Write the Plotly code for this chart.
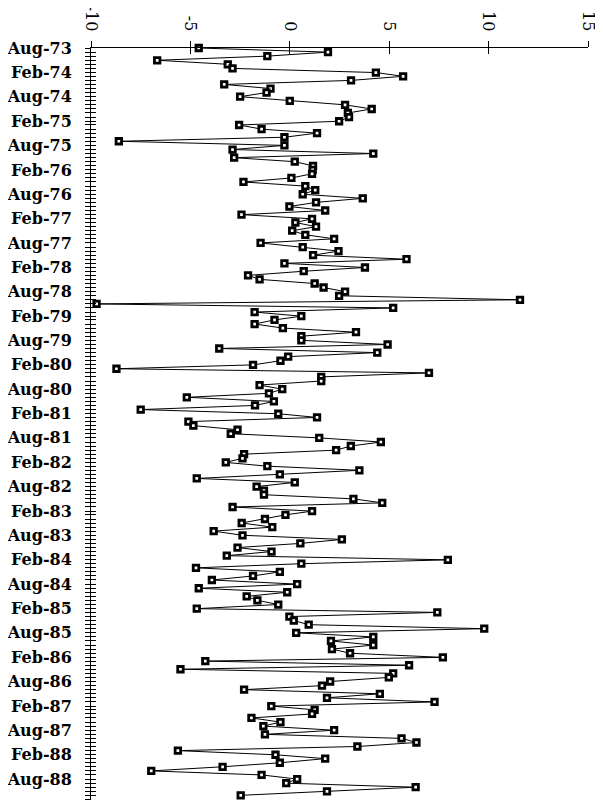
import pandas as pd
import plotly.graph_objects as go

# Monthly series, Aug-73 .. Dec-88
start_month = "1973-08-01"
values = [
    -4.58, 1.92, -1.13, -6.67, -3.12, -2.88, 4.33, 5.70, 3.08, -3.30,
    -0.97, -1.17, -2.50, 0.00, 2.78, 4.12, 2.92, 2.98, 2.48, -2.55,
    -1.42, 1.37, -0.27, -8.60, -0.27, -2.88, 4.20, -2.80, 0.25, 1.17,
    1.15, 1.12, 0.08, -2.33, 0.78, 1.28, 0.65, 3.67, 1.32, -0.02,
    1.78, -2.43, 1.12, 0.28, 1.32, 0.12, 0.78, 2.23, -1.47, 0.65,
    2.45, 1.17, 5.87, -0.27, 3.78, 0.70, -2.10, -1.52, 1.25, 1.70,
    2.78, 2.48, 11.58, -9.72, 5.20, -1.77, 0.58, -0.77, -1.77, -0.35,
    3.33, 0.58, 0.58, 4.92, -3.55, 4.40, -0.08, -0.47, -1.85, -8.72,
    7.00, 1.58, 1.58, -1.52, -0.38, -1.05, -5.18, -0.80, -1.75, -7.50,
    -0.58, 1.37, -5.10, -4.85, -2.63, -2.97, 1.48, 4.58, 3.07, 2.33,
    -2.30, -2.38, -3.22, -1.13, 3.50, -0.50, -4.68, 0.25, -1.67, -1.30,
    -1.30, 3.20, 4.65, -2.88, 1.12, -0.22, -1.25, -2.42, -0.88, -3.83,
    -2.38, 2.62, 0.53, -2.63, -0.92, -3.17, 7.95, 0.58, -4.72, -0.50,
    -1.85, -3.92, 0.37, -4.58, -0.13, -2.17, -1.63, -0.58, -4.68, 7.42,
    -0.02, 0.20, 0.95, 9.78, 0.32, 4.20, 2.07, 4.20, 2.12, 3.03,
    7.70, -4.25, 6.00, -5.50, 5.20, 4.98, 2.03, 1.62, -2.30, 4.53,
    1.87, 7.28, -0.93, 1.25, 1.12, -1.93, -0.47, -1.33, 2.23, -1.25,
    5.62, 6.37, 3.40, -5.63, -0.72, 1.78, -0.50, -3.38, -6.97, -1.42,
    0.37, -0.18, 6.33, 1.87, -2.47,
]
months = pd.date_range(start_month, periods=len(values), freq="MS")

x_ticks = [-10, -5, 0, 5, 10, 15]
x_ticktext = ["-10", "-5", "0", "5", "10", "15"]
y_range = ["1973-08-01", "1989-01-05"]

font_family = "DejaVu Serif"

fig = go.Figure()
fig.add_trace(go.Scatter(
    x=values, y=months, mode="lines+markers",
    line=dict(color="black", width=1),
    marker=dict(symbol="square", size=5.5, color="white",
                line=dict(color="black", width=2.8)),
    showlegend=False, cliponaxis=False,
))

# page body has an 8px default margin, so the figure is sized to fit
fig.update_layout(
    width=595, height=796,
    paper_bgcolor="white", plot_bgcolor="white",
    margin=dict(l=83, r=15, t=40, b=4),
    font=dict(family=font_family, color="black", size=15),
    xaxis=dict(
        side="top", range=[-10, 15], tickmode="array",
        tickvals=x_ticks, ticktext=x_ticktext, tickangle=90,
        ticks="outside", ticklen=6, tickwidth=1, tickcolor="black",
        showline=True, linecolor="black", linewidth=1,
        showgrid=False, zeroline=False, automargin=False,
        ticklabelstandoff=4,
        tickfont=dict(family=font_family, size=16),
    ),
    xaxis2=dict(
        overlaying="x", side="top", range=[-10, 15], tickmode="array",
        tickvals=x_ticks, ticks="inside", ticklen=6, tickwidth=1,
        tickcolor="black", showticklabels=False, showgrid=False,
        zeroline=False, showline=False, automargin=False,
    ),
    yaxis=dict(
        type="date", range=[y_range[1], y_range[0]],
        tick0="1973-08-01", dtick="M6", tickformat="%b-%y",
        ticks="outside", ticklen=5, tickwidth=1, tickcolor="black",
        minor=dict(dtick="M1", ticks="outside", ticklen=5,
                   tickwidth=1, tickcolor="black", showgrid=False),
        showline=True, linecolor="black", linewidth=1,
        showgrid=False, zeroline=False, ticklabelstandoff=10,
        automargin=False,
        tickfont=dict(family=font_family, size=16, weight="bold"),
    ),
    yaxis2=dict(
        type="date", overlaying="y", side="left",
        range=[y_range[1], y_range[0]],
        tick0="1973-08-01", dtick="M1",
        ticks="inside", ticklen=5, tickwidth=1, tickcolor="black",
        showticklabels=False, showgrid=False, zeroline=False,
        showline=False, automargin=False,
    ),
)
# invisible trace to activate overlay axes
fig.add_trace(go.Scatter(x=[None], y=[None], xaxis="x2", yaxis="y2",
                         showlegend=False, hoverinfo="skip"))

fig.write_html("out.html")
